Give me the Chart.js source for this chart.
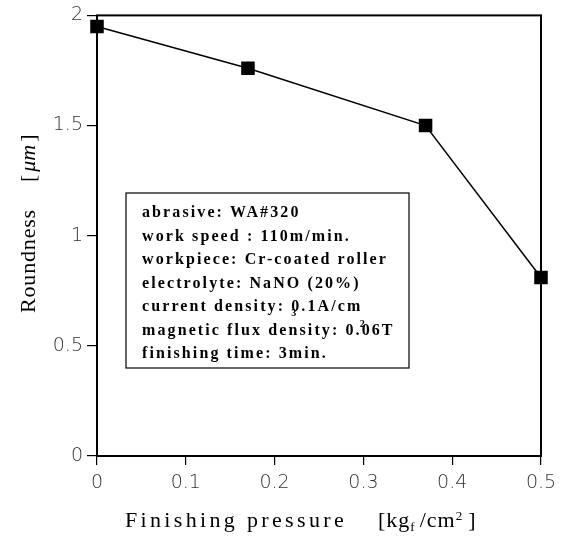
<!DOCTYPE html>
<html><head><meta charset="utf-8">
<script src="https://cdn.jsdelivr.net/npm/chart.js@4"></script>
<style>html,body{margin:0;padding:0;background:#fff}#wrap{width:575px;height:538px}</style>
</head><body><div id="wrap"><canvas id="c" width="575" height="538"></canvas></div>
<script>
const pressure = [0, 0.17, 0.37, 0.5];
const roundness = [1.95, 1.76, 1.50, 0.81];
const xTicks = [0, 0.1, 0.2, 0.3, 0.4, 0.5];
const yTicks = [0, 0.5, 1, 1.5, 2];
const boxLines = [
  "abrasive: WA#320",
  "work speed : 110m/min.",
  "workpiece: Cr-coated roller",
  "electrolyte: NaNO (20%)",
  "current density: 0.1A/cm",
  "magnetic flux density: 0.06T",
  "finishing time: 3min."
];

function spacingFor(ctx, text, target) {
  ctx.letterSpacing = '0px';
  const w = ctx.measureText(text).width;
  return (target - w) / text.length;
}

const deco = {
  id: 'deco',
  afterDraw(chart) {
    const ctx = chart.ctx, a = chart.chartArea;
    ctx.save();
    ctx.strokeStyle = '#000';
    ctx.lineWidth = 2;
    ctx.strokeRect(a.left, a.top, a.right - a.left, a.bottom - a.top);
    // info box
    ctx.lineWidth = 1.2;
    ctx.strokeRect(126, 193, 283, 175);
    ctx.fillStyle = '#000';
    const boxFont = "bold 16px 'Liberation Serif'";
    ctx.font = boxFont;
    const ls = spacingFor(ctx, "workpiece: Cr-coated roller", 246);
    ctx.letterSpacing = ls + 'px';
    ctx.textBaseline = 'alphabetic';
    const x0 = 142, y0 = 217, dy = 23.5;
    boxLines.forEach((t, i) => ctx.fillText(t, x0, y0 + i * dy));
    const wOf = (s) => { ctx.font = boxFont; ctx.letterSpacing = ls + 'px'; return ctx.measureText(s).width; };
    // stray sub/superscripts as printed in the reference
    const w3 = wOf('current density: ');
    const w2 = wOf('magnetic flux density: 0.');
    ctx.font = "bold 10px 'Liberation Serif'"; ctx.letterSpacing = '0px';
    ctx.fillText('3', x0 + w3, y0 + 4 * dy + 5);
    ctx.fillText('2', x0 + w2 - 2, y0 + 5 * dy - 8);
    // x axis title
    const tFont = "22px 'Liberation Serif'";
    ctx.font = tFont;
    ctx.letterSpacing = spacingFor(ctx, 'Finishing pressure', 222) + 'px';
    ctx.fillText('Finishing pressure', 125, 527);
    let x = 378;
    ctx.letterSpacing = '1px';
    ctx.fillText('[kg', x, 527); x += ctx.measureText('[kg').width;
    ctx.font = "13px 'Liberation Serif'"; ctx.letterSpacing = '0px';
    ctx.fillText('f', x, 531); x += ctx.measureText('f').width + 5;
    ctx.font = tFont; ctx.letterSpacing = '1px';
    ctx.fillText('/cm', x, 527); x += ctx.measureText('/cm').width;
    ctx.font = "13px 'Liberation Serif'"; ctx.letterSpacing = '0px';
    ctx.fillText('2', x, 520); x += ctx.measureText('2').width + 6;
    ctx.font = tFont;
    ctx.fillText(']', x, 527);
    // y axis title
    ctx.translate(35, 313);
    ctx.rotate(-Math.PI / 2);
    ctx.font = tFont;
    ctx.letterSpacing = spacingFor(ctx, 'Roundness', 104) + 'px';
    ctx.fillText('Roundness', 0, 0);
    let yy = 131;
    ctx.letterSpacing = '0px';
    ctx.fillText('[', yy, 0); yy += ctx.measureText('[').width + 3;
    ctx.font = "italic 22px 'Liberation Serif'";
    ctx.fillText('\u03bcm', yy, 0); yy += ctx.measureText('\u03bcm').width + 3;
    ctx.font = tFont;
    ctx.fillText(']', yy, 0);
    ctx.restore();
  }
};

new Chart(document.getElementById('c'), {
  type: 'line',
  data: {
    datasets: [{
      data: pressure.map((p, i) => ({ x: p, y: roundness[i] })),
      borderColor: '#000',
      borderWidth: 1.5,
      backgroundColor: '#000',
      pointStyle: 'rect',
      pointRadius: 8.5,
      pointHoverRadius: 8.5,
      tension: 0,
      clip: false
    }]
  },
  options: {
    responsive: false,
    animation: false,
    devicePixelRatio: 1,
    layout: { padding: { top: 14, right: 34, left: 0, bottom: 0 } },
    plugins: { legend: { display: false }, tooltip: { enabled: false } },
    scales: {
      x: {
        type: 'linear', min: 0, max: 0.5,
        afterFit(s) { s.height = 82; },
        afterBuildTicks(s) { s.ticks = xTicks.map(v => ({ value: v })); },
        grid: { drawOnChartArea: false, tickLength: 9, color: '#000', lineWidth: 1.2 },
        border: { display: false },
        ticks: { padding: 7, color: '#333', font: { family: "'DejaVu Sans'", size: 19, weight: 200 }, callback: v => String(v) }
      },
      y: {
        type: 'linear', min: 0, max: 2,
        afterFit(s) { s.width = 97; },
        afterBuildTicks(s) { s.ticks = yTicks.map(v => ({ value: v })); },
        grid: { drawOnChartArea: false, tickLength: 10, color: '#000', lineWidth: 1.2 },
        border: { display: false },
        ticks: { padding: 4, color: '#333', font: { family: "'DejaVu Sans'", size: 19, weight: 200 }, callback: v => String(v) }
      }
    }
  },
  plugins: [deco]
});
</script></body></html>
